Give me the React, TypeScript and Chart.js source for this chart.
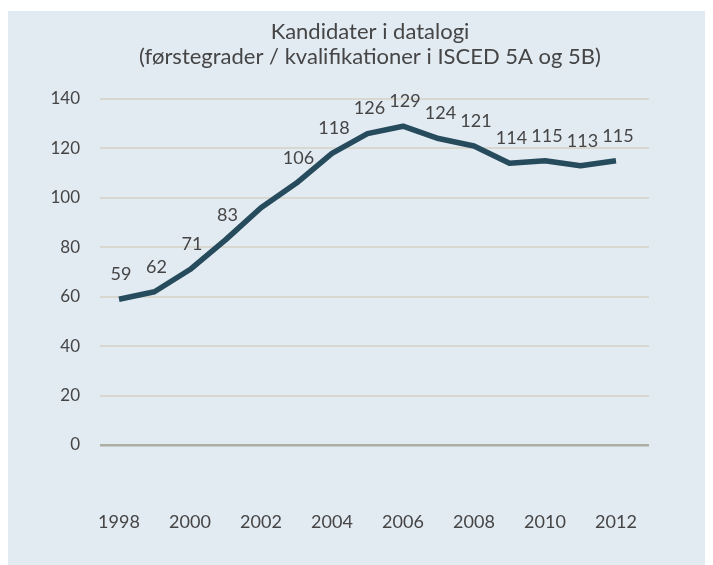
import React, { useEffect, useRef } from 'react';
import { Chart, registerables } from 'chart.js';

Chart.register(...registerables);

const years = [1998, 1999, 2000, 2001, 2002, 2003, 2004, 2005, 2006, 2007, 2008, 2009, 2010, 2011, 2012];
const values = [59, 62, 71, 83, 96, 106, 118, 126, 129, 124, 121, 114, 115, 113, 115];
const valueLabels = ['59', '62', '71', '83', null, '106', '118', '126', '129', '124', '121', '114', '115', '113', '115'];
const xTickYears = [1998, 2000, 2002, 2004, 2006, 2008, 2010, 2012];
const yTickValues = [0, 20, 40, 60, 80, 100, 120, 140];
const titleLines = ['Kandidater i datalogi', '(førstegrader / kvalifikationer i ISCED 5A og 5B)'];

const FONT = 'Lato, "Open Sans", sans-serif';
const TEXT = '#454545';
const BG = '#e2eaf2';

export default function App() {
  const ref = useRef<HTMLCanvasElement | null>(null);

  useEffect(() => {
    const canvas = ref.current;
    if (!canvas) return;

    const bgPlugin = {
      id: 'bg',
      beforeDraw(chart: any) {
        const c = chart.ctx;
        c.save();
        c.fillStyle = BG;
        c.fillRect(0, 0, chart.width, chart.height);
        c.restore();
      },
    };

    const titlePlugin = {
      id: 'customTitle',
      afterDraw(chart: any) {
        const c = chart.ctx;
        c.save();
        c.fillStyle = TEXT;
        c.textAlign = 'center';
        c.textBaseline = 'middle';
        c.font = `22px ${FONT}`;
        c.fillText(titleLines[0], 362, 21);
        c.fillText(titleLines[1], 362, 46);
        c.restore();
      },
    };

    const labelPlugin = {
      id: 'valueLabels',
      afterDatasetsDraw(chart: any) {
        const meta = chart.getDatasetMeta(0);
        const c = chart.ctx;
        c.save();
        c.fillStyle = TEXT;
        c.textAlign = 'center';
        c.textBaseline = 'middle';
        c.font = `18px ${FONT}`;
        meta.data.forEach((pt: any, i: number) => {
          const t = valueLabels[i];
          if (t == null) return;
          c.fillText(t, pt.x + 2, pt.y - 25);
        });
        c.restore();
      },
    };

    const chart = new Chart(canvas, {
      type: 'line',
      data: {
        datasets: [
          {
            data: years.map((y, i) => ({ x: y, y: values[i] })),
            borderColor: '#264b5c',
            borderWidth: 5.5,
            pointRadius: 0,
            tension: 0,
            borderJoinStyle: 'round',
            fill: false,
          },
        ],
      },
      options: {
        animation: false,
        responsive: false,
        maintainAspectRatio: false,
        layout: { padding: { top: 88, right: 64, bottom: 0, left: 0 } },
        plugins: {
          legend: { display: false },
          title: { display: false },
          tooltip: { enabled: false },
        },
        scales: {
          x: {
            type: 'linear',
            min: 1997.465,
            max: 2012.93,
            afterBuildTicks(scale: any) {
              scale.ticks = xTickYears.map((v) => ({ value: v }));
            },
            afterFit(scale: any) {
              scale.height = 120;
            },
            grid: { display: false, drawTicks: false },
            border: { display: false },
            ticks: {
              padding: 66,
              color: TEXT,
              font: { family: FONT, size: 18 },
              maxRotation: 0,
              autoSkip: false,
              callback: (v: any) => String(v),
            },
          },
          y: {
            min: 0,
            max: 140,
            afterBuildTicks(scale: any) {
              scale.ticks = yTickValues.map((v) => ({ value: v }));
            },
            afterFit(scale: any) {
              scale.width = 92;
            },
            grid: {
              drawTicks: false,
              lineWidth: (ctx: any) => (ctx.tick && ctx.tick.value === 0 ? 2.5 : 2),
              color: (ctx: any) => (ctx.tick && ctx.tick.value === 0 ? '#aeada3' : '#d8d8d0'),
            },
            border: { display: false },
            ticks: {
              padding: 20,
              color: TEXT,
              font: { family: FONT, size: 17 },
              callback: (v: any) => String(v),
            },
          },
        },
      },
      plugins: [bgPlugin, titlePlugin, labelPlugin],
    } as any);

    return () => chart.destroy();
  }, []);

  return (
    <div style={{ paddingTop: 3 }}>
      <canvas ref={ref} width={705} height={554} style={{ display: 'block', width: 705, height: 554 }} />
    </div>
  );
}
